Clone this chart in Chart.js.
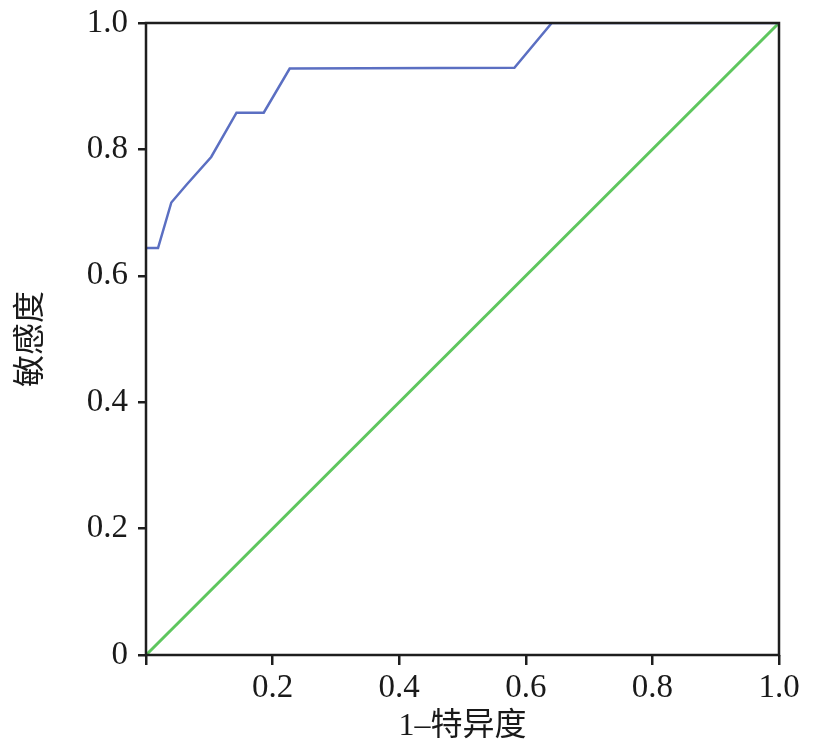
<!DOCTYPE html>
<html lang="zh">
<head>
    <meta charset="UTF-8">
    <title>ROC</title>
    <script src="https://cdn.jsdelivr.net/npm/chart.js@4/dist/chart.umd.min.js"></script>
    <style>
        html, body { margin: 0; padding: 0; background: #fff; }
        #wrap { width: 820px; height: 750px; }
    </style>
</head>
<body>
<div id="wrap">
    <canvas id="roc"></canvas>
</div>
<script>
    // ROC curve points (1-specificity, sensitivity)
    var rocX = [0, 0.019, 0.040, 0.064, 0.103, 0.143, 0.186, 0.227, 0.582, 0.641, 1.0];
    var rocY = [0.644, 0.644, 0.716, 0.744, 0.788, 0.858, 0.858, 0.928, 0.929, 1.0, 1.0];
    var refX = [0, 1];
    var refY = [0, 1];
    var tickValues = [0, 0.2, 0.4, 0.6, 0.8, 1.0];
    var xTitle = '1\u2013特异度';
    var yTitle = '敏感度';

    function toPoints(xs, ys) {
        var pts = [];
        for (var i = 0; i < xs.length; i++) {
            pts.push({x: xs[i], y: ys[i]});
        }
        return pts;
    }

    var tickFont = {family: '"Liberation Serif", "DejaVu Serif", serif', size: 33};
    var titleFont = {family: '"Liberation Serif", "Noto Sans CJK SC", serif', size: 32};

    // box around the plot area
    var frame = {
        id: 'frame',
        afterDraw: function (chart) {
            var a = chart.chartArea, ctx = chart.ctx;
            ctx.save();
            ctx.strokeStyle = '#1e1e1e';
            ctx.lineWidth = 2.5;
            ctx.strokeRect(a.left, a.top, a.right - a.left, a.bottom - a.top);
            ctx.restore();
        }
    };

    var ctx = document.getElementById('roc').getContext('2d');
    var rocChart = new Chart(ctx, {
        type: 'scatter',
        data: {
            datasets: [
                {
                    label: 'ROC',
                    data: toPoints(rocX, rocY),
                    showLine: true,
                    borderColor: '#5b6fc2',
                    borderWidth: 2.5,
                    pointRadius: 0,
                    tension: 0
                },
                {
                    label: 'reference',
                    data: toPoints(refX, refY),
                    showLine: true,
                    borderColor: '#5ec65e',
                    borderWidth: 3,
                    pointRadius: 0
                }
            ]
        },
        options: {
            responsive: true,
            maintainAspectRatio: false,
            animation: false,
            layout: {padding: {left: 0, right: 41, top: 23, bottom: 0}},
            plugins: {legend: {display: false}, tooltip: {enabled: false}},
            scales: {
                x: {
                    type: 'linear',
                    min: 0,
                    max: 1,
                    afterBuildTicks: function (axis) {
                        axis.ticks = tickValues.map(function (v) { return {value: v}; });
                    },
                    afterFit: function (axis) {
                        axis.height = 95;
                        axis.paddingLeft = 0;
                        axis.paddingRight = 0;
                    },
                    ticks: {
                        color: '#1a1a1a',
                        font: tickFont,
                        padding: 4,
                        maxRotation: 0,
                        callback: function (v) { return v === 0 ? '' : v.toFixed(1); }
                    },
                    grid: {drawOnChartArea: false, tickLength: 10, color: '#1e1e1e', lineWidth: 2.5},
                    border: {display: false},
                    title: {display: true, text: xTitle, color: '#1a1a1a', font: titleFont, padding: {top: 3}}
                },
                y: {
                    type: 'linear',
                    min: 0,
                    max: 1,
                    afterBuildTicks: function (axis) {
                        axis.ticks = tickValues.map(function (v) { return {value: v}; });
                    },
                    afterFit: function (axis) {
                        axis.width = 146;
                        axis.paddingTop = 0;
                        axis.paddingBottom = 0;
                    },
                    ticks: {
                        color: '#1a1a1a',
                        font: tickFont,
                        padding: 10,
                        callback: function (v) { return v === 0 ? '0' : v.toFixed(1); }
                    },
                    grid: {drawOnChartArea: false, tickLength: 8, color: '#1e1e1e', lineWidth: 2.5},
                    border: {display: false},
                    title: {display: true, text: yTitle, color: '#1a1a1a', font: titleFont, padding: {top: 12, bottom: 0}}
                }
            }
        },
        plugins: [frame]
    });
</script>
</body>
</html>
